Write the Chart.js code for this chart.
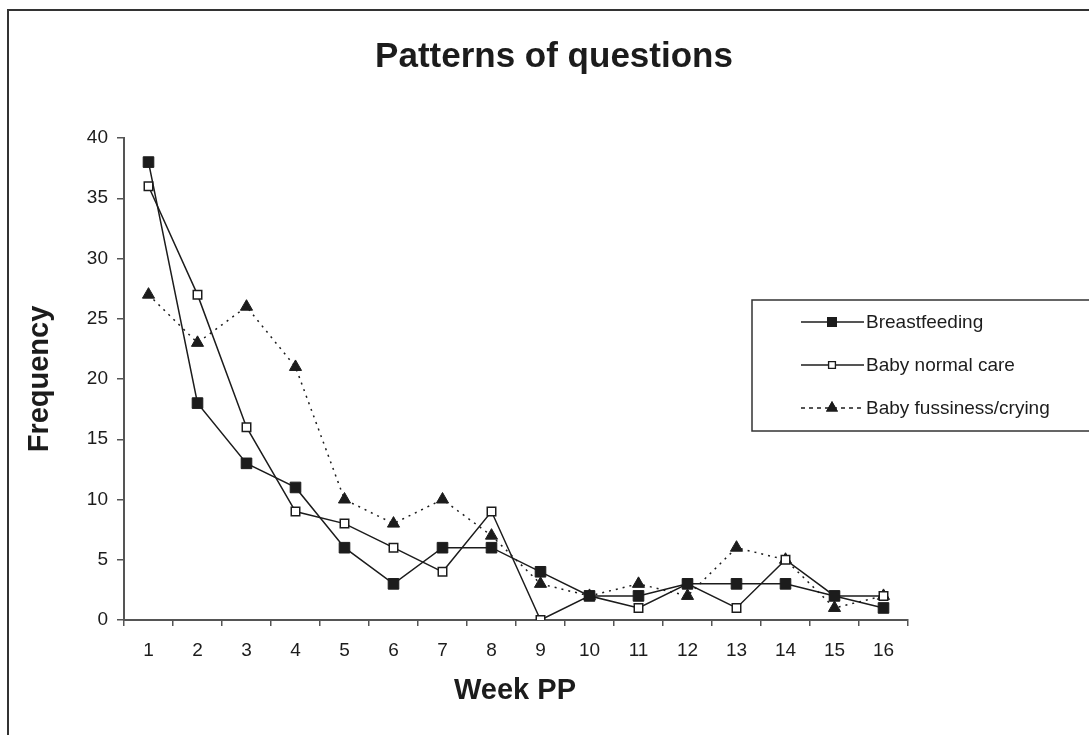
<!DOCTYPE html>
<html>
<head>
<meta charset="utf-8">
<script src="https://cdn.jsdelivr.net/npm/chart.js@4"></script>
<style>
    html, body { margin: 0; padding: 0; background: #fff; }
    #wrap { width: 1089px; height: 735px; }
</style>
</head>
<body>
<div id="wrap"><canvas id="chart" width="1089" height="735"></canvas></div>
<script>
// 数据
const weeks = ['1', '2', '3', '4', '5', '6', '7', '8', '9', '10', '11', '12', '13', '14', '15', '16'];
const breastfeeding = [38, 18, 13, 11, 6, 3, 6, 6, 4, 2, 2, 3, 3, 3, 2, 1];
const normalCare = [36, 27, 16, 9, 8, 6, 4, 9, 0, 2, 1, 3, 1, 5, 2, 2];
const fussiness = [27, 23, 26, 21, 10, 8, 10, 7, 3, 2, 3, 2, 6, 5, 1, 2];
const yTicks = [0, 5, 10, 15, 20, 25, 30, 35, 40];

const ink = '#1c1c1c';
const axisGray = '#555';
const font = 'Liberation Sans, Arial, sans-serif';

// 外框、标题和图例
const framePlugin = {
    id: 'frame',
    afterDraw(chart) {
        const ctx = chart.ctx;
        ctx.save();
        ctx.strokeStyle = '#333';
        ctx.lineWidth = 2;
        ctx.strokeRect(8, 10, 1200, 800);

        // 标题和轴标题
        ctx.fillStyle = ink;
        ctx.textAlign = 'center';
        ctx.textBaseline = 'middle';
        ctx.font = 'bold 35px ' + font;
        ctx.fillText('Patterns of questions', 554, 57);
        ctx.font = 'bold 29px ' + font;
        ctx.fillText('Week PP', 515, 691);
        ctx.save();
        ctx.translate(40, 379);
        ctx.rotate(-Math.PI / 2);
        ctx.fillText('Frequency', 0, 0);
        ctx.restore();

        // 图例框
        ctx.lineWidth = 1.5;
        ctx.strokeStyle = '#333';
        ctx.strokeRect(752, 300, 400, 131);
        const rows = [322, 365, 408];
        const dashes = [[], [], [4, 4]];
        chart.data.datasets.forEach((ds, i) => {
            const y = rows[i];
            ctx.beginPath();
            ctx.setLineDash(dashes[i]);
            ctx.strokeStyle = ink;
            ctx.lineWidth = 1.3;
            ctx.moveTo(801, y);
            ctx.lineTo(864, y);
            ctx.stroke();
            ctx.setLineDash([]);
            Chart.helpers.drawPoint(ctx, {
                pointStyle: ds.pointStyle,
                radius: ds.pointRadius * 0.8,
                borderWidth: 1.2
            }, 832, y);
            ctx.fillStyle = ds.pointBackgroundColor;
            ctx.strokeStyle = ink;
            ctx.fill();
            ctx.stroke();
            ctx.fillStyle = ink;
            ctx.font = '19px ' + font;
            ctx.textBaseline = 'middle';
            ctx.textAlign = 'left';
            ctx.fillText(ds.label, 866, y + 1);
        });
        ctx.restore();
    }
};

new Chart(document.getElementById('chart'), {
    type: 'line',
    data: {
        labels: weeks,
        datasets: [
            {
                label: 'Breastfeeding',
                data: breastfeeding,
                borderColor: ink,
                borderWidth: 1.5,
                pointStyle: 'rect',
                pointRadius: 7.5,
                pointBackgroundColor: ink,
                pointBorderColor: ink,
                pointBorderWidth: 1,
                tension: 0
            },
            {
                label: 'Baby normal care',
                data: normalCare,
                borderColor: ink,
                borderWidth: 1.5,
                pointStyle: 'rect',
                pointRadius: 6,
                pointBackgroundColor: '#fff',
                pointBorderColor: ink,
                pointBorderWidth: 1.5,
                tension: 0
            },
            {
                label: 'Baby fussiness/crying',
                data: fussiness,
                borderColor: ink,
                borderWidth: 1.5,
                borderDash: [2, 5],
                pointStyle: 'triangle',
                pointRadius: 7,
                pointBackgroundColor: ink,
                pointBorderColor: ink,
                pointBorderWidth: 1,
                tension: 0
            }
        ]
    },
    options: {
        responsive: false,
        animation: false,
        devicePixelRatio: 1,
        layout: { padding: { left: 0, right: 181, top: 138, bottom: 0 } },
        plugins: {
            legend: { display: false },
            tooltip: { enabled: false },
            title: { display: false }
        },
        scales: {
            x: {
                offset: true,
                grid: {
                    offset: true,
                    drawOnChartArea: false,
                    drawTicks: true,
                    tickLength: 6,
                    color: axisGray,
                    lineWidth: 1.5
                },
                border: { color: axisGray, width: 2 },
                ticks: {
                    color: ink,
                    font: { family: font, size: 19 },
                    padding: 13,
                    maxRotation: 0,
                    autoSkip: false
                },
                afterFit(scale) { scale.height = 115; }
            },
            y: {
                min: 0,
                max: 40,
                afterBuildTicks(scale) { scale.ticks = yTicks.map(v => ({ value: v })); },
                grid: {
                    drawOnChartArea: false,
                    drawTicks: true,
                    tickLength: 7,
                    color: axisGray,
                    lineWidth: 1.5
                },
                border: { color: axisGray, width: 2 },
                ticks: {
                    color: ink,
                    font: { family: font, size: 19 },
                    padding: 9
                },
                afterFit(scale) { scale.width = 124; }
            }
        }
    },
    plugins: [framePlugin]
});
</script>
</body>
</html>
